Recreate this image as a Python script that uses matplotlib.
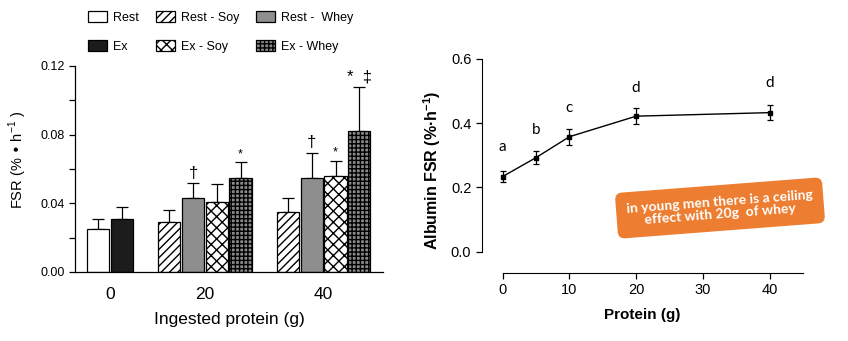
import numpy as np
import matplotlib
matplotlib.use("Agg")
import matplotlib.pyplot as plt

# --- left panel: muscle FSR by ingested protein ---
dose_labels = ["0", "20", "40"]
bar_slots = [0, 1, 3, 4, 5, 6, 8, 9, 10, 11]
bar_groups = ["Rest", "Ex", "Rest - Soy", "Rest -  Whey", "Ex - Soy", "Ex - Whey",
              "Rest - Soy", "Rest -  Whey", "Ex - Soy", "Ex - Whey"]
fsr_mean = [0.0249, 0.0310, 0.0290, 0.0429, 0.0406, 0.0547, 0.0348, 0.0547, 0.0558, 0.0819]
fsr_err = [0.0060, 0.0067, 0.0071, 0.0089, 0.0104, 0.0093, 0.0081, 0.0149, 0.0091, 0.0259]
fsr_marks = ["", "", "", "\u2020", "", "*", "", "\u2020", "*", "*  \u2021"]

# --- right panel: albumin FSR dose response ---
protein_g = [0, 5, 10, 20, 40]
albumin_fsr = [0.234, 0.293, 0.358, 0.422, 0.433]
albumin_err = [0.016, 0.020, 0.025, 0.024, 0.023]
albumin_letters = ["a", "b", "c", "d", "d"]
letter_y = [0.325, 0.379, 0.447, 0.509, 0.525]

styles = {
    "Rest": dict(facecolor="white", hatch=None),
    "Ex": dict(facecolor="#1c1c1c", hatch=None),
    "Rest - Soy": dict(facecolor="white", hatch="////"),
    "Ex - Soy": dict(facecolor="white", hatch="xxx"),
    "Rest -  Whey": dict(facecolor="#8e8e8e", hatch=None),
    "Ex - Whey": dict(facecolor="#8a8a8a", hatch="++++"),
}
legend_order = ["Rest", "Ex", "Rest - Soy", "Ex - Soy", "Rest -  Whey", "Ex - Whey"]

plt.rcParams["font.family"] = ["Liberation Sans", "DejaVu Sans"]
plt.rcParams["hatch.linewidth"] = 1.0

fig = plt.figure(figsize=(8.48, 3.41), dpi=100)

ax1 = fig.add_axes([75 / 848, 1 - 272 / 341, 308 / 848, 206 / 341])
handles = {}
for slot, grp, m, e, mk in zip(bar_slots, bar_groups, fsr_mean, fsr_err, fsr_marks):
    st = styles[grp]
    b = ax1.bar(slot, m, width=0.93, facecolor=st["facecolor"], hatch=st["hatch"],
                edgecolor="black", linewidth=0.9, zorder=2)
    ax1.errorbar(slot, m, yerr=[[0], [e]], fmt="none", ecolor="black",
                 elinewidth=0.9, capsize=4.3, capthick=0.9, zorder=1)
    handles.setdefault(grp, b[0])
    if mk:
        big = "\u2020" in mk or "\u2021" in mk
        ax1.annotate(mk, (slot, m + e), xytext=(0, 1.5), textcoords="offset points",
                     ha="center", va="bottom", fontsize=12 if big else 9)

ax1.set_xlim(-0.97, 12.0)
ax1.set_ylim(0, 0.12)
ax1.set_yticks([0, 0.04, 0.08, 0.12])
ax1.set_yticklabels(["0.00", "0.04", "0.08", "0.12"])
ax1.set_yticks([0.02, 0.06, 0.10], minor=True)
ax1.set_xticks([0.5, 4.5, 9.5])
ax1.set_xticklabels(dose_labels, fontsize=12.5)
ax1.tick_params(axis="x", length=0, pad=11)
ax1.tick_params(axis="y", which="both", direction="out", length=4, width=0.9, labelsize=9)
for s in ["top", "right"]:
    ax1.spines[s].set_visible(False)
ax1.spines["left"].set_linewidth(0.9)
ax1.spines["bottom"].set_linewidth(0.9)
ax1.set_xlabel("Ingested protein (g)", fontsize=12.5, labelpad=7)
ax1.set_ylabel("FSR (% \u2022 h$^{\\mathregular{-1}}$ )", fontsize=10.5)
ax1.yaxis.set_label_coords(-0.15, 0.545)

fig.legend([handles[g] for g in legend_order], legend_order, ncol=3, frameon=False,
           loc="upper left", bbox_to_anchor=(88 / 848, 1 - 11 / 341), fontsize=9,
           borderpad=0, borderaxespad=0,
           handlelength=1.5, handleheight=1.0, handletextpad=0.5,
           labelspacing=1.3, columnspacing=1.35)

ax2 = fig.add_axes([481.7 / 848, 1 - 272.7 / 341, 321.3 / 848, 213.7 / 341])
ax2.errorbar(protein_g, albumin_fsr, yerr=albumin_err, fmt="s-", color="black",
             markersize=3.5, linewidth=1.0, elinewidth=0.9, capsize=2.2, capthick=0.9,
             clip_on=False)
for x, y, t in zip(protein_g, letter_y, albumin_letters):
    ax2.text(x, y, t, ha="center", va="center", fontsize=11, family=["Lato", "DejaVu Sans"])
ax2.set_xlim(-3.14, 45)
ax2.set_ylim(-0.0654, 0.6)
ax2.spines["left"].set_bounds(0, 0.6)
ax2.spines["bottom"].set_bounds(0, 45)
for s in ["top", "right"]:
    ax2.spines[s].set_visible(False)
ax2.set_yticks([0, 0.2, 0.4, 0.6])
ax2.set_yticklabels(["0.0", "0.2", "0.4", "0.6"])
ax2.set_xticks([0, 10, 20, 30, 40])
ax2.tick_params(direction="out", length=4, width=0.9, labelsize=10.5)
ax2.set_xlabel("Protein (g)", fontsize=11, fontweight="bold", labelpad=8)
ax2.set_ylabel("Albumin FSR (%\u00b7h$^{\\mathregular{-1}}$)", fontsize=11.5, fontweight="bold")
ax2.yaxis.set_label_coords(-0.12, 0.48)

fig.text(720 / 848, 1 - 208 / 341, "in young men there is a ceiling\neffect with 20g  of whey",
         rotation=4.4, rotation_mode="anchor", ha="center", va="center", multialignment="center",
         color="white", fontsize=10, fontweight="bold", family=["Lato", "DejaVu Sans"],
         linespacing=1.1,
         bbox=dict(boxstyle="round,pad=0.75,rounding_size=0.5", facecolor="#ED7D31", edgecolor="none"))

fig.savefig("out.png", dpi=100)
